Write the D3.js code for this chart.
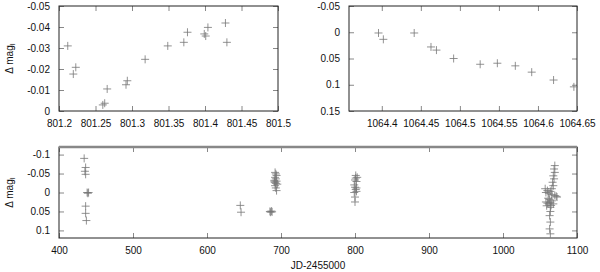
<!DOCTYPE html>
<html>
<head>
<meta charset="utf-8">
<script src="https://cdn.jsdelivr.net/npm/d3@7"></script>
<style>
  body { margin: 0; background: #fff; }
  text { font-family: "Liberation Sans", Arial, sans-serif; fill: #111; }
</style>
</head>
<body>
<div id="chart_area"></div>
<script>
// night of JD 2455801 (zoomed)
var nightAx = [801.212, 801.2196, 801.223, 801.260, 801.2626, 801.266, 801.2918, 801.2936,
    801.318, 801.349, 801.371, 801.376, 801.399, 801.401, 801.404, 801.428, 801.430];
var nightAy = [-0.031, -0.0176, -0.0208, -0.0029, -0.0037, -0.0105, -0.0125, -0.0144,
    -0.0246, -0.031, -0.0327, -0.0375, -0.0367, -0.0357, -0.0398, -0.0419, -0.0327];

// night of JD 2456064 (zoomed)
var nightBx = [1064.3958, 1064.402, 1064.4415, 1064.463, 1064.470, 1064.492,
    1064.526, 1064.548, 1064.571, 1064.592, 1064.620, 1064.646];
var nightBy = [0.0014, 0.0135, 0.0014, 0.028, 0.034, 0.050,
    0.061, 0.059, 0.064, 0.076, 0.091, 0.104];

// whole campaign
var allX = [434, 436, 435, 436, 438, 439, 440, 436, 436, 437,
    645, 646,
    685, 686, 687, 688,
    692, 693, 694, 692, 693, 691, 694, 692, 693, 695, 692, 693, 694, 691,
    801, 803, 801, 800, 802, 799, 800, 801, 802, 799, 800, 800, 802,
    1070, 1069, 1070, 1068, 1069, 1067, 1068, 1066,
    1057, 1058, 1060, 1062, 1064, 1066, 1070, 1072, 1073, 1058, 1060, 1062, 1064, 1066, 1068, 1061, 1063, 1059, 1065,
    1064, 1064, 1063, 1064, 1063, 1064];
var allY = [-0.090, -0.066, -0.056, -0.048, 0.0, 0.002, 0.0, 0.036, 0.055, 0.074,
    0.034, 0.052,
    0.050, 0.052, 0.049, 0.051,
    -0.053, -0.049, -0.045, -0.040, -0.036, -0.032, -0.030, -0.027, -0.024, -0.022, -0.018, -0.012, -0.005, -0.028,
    -0.045, -0.040, -0.038, -0.033, -0.029, -0.020, -0.014, -0.008, -0.012, 0.0, 0.012, 0.025, -0.003,
    -0.071, -0.062, -0.053, -0.044, -0.036, -0.027, -0.018, -0.010,
    -0.010, 0.0, -0.005, 0.002, -0.003, 0.005, 0.008, 0.010, 0.012, 0.025, 0.028, 0.030, 0.026, 0.022, 0.030, 0.015, 0.018, 0.035, 0.034,
    0.039, 0.050, 0.061, 0.078, 0.096, 0.109];

var ticksAx = [801.2, 801.25, 801.3, 801.35, 801.4, 801.45, 801.5];
var ticksAy = [-0.05, -0.04, -0.03, -0.02, -0.01, 0];
var ticksBx = [1064.4, 1064.45, 1064.5, 1064.55, 1064.6, 1064.65];
var ticksBy = [-0.05, 0, 0.05, 0.1, 0.15];
var ticksCx = [400, 500, 600, 700, 800, 900, 1000, 1100];
var ticksCy = [-0.1, -0.05, 0, 0.05, 0.1];

var svg = d3.select("#chart_area")
    .append("svg")
    .attr("width", 600)
    .attr("height", 272);

var fmt = function (d) { return String(+d.toFixed(3)); };

function panel(o) {
    var x = d3.scaleLinear().domain(o.xd).range([o.left, o.right]);
    var y = d3.scaleLinear().domain(o.yd).range([o.top, o.bottom]);

    var g = svg.append("g");

    g.append("g")
        .attr("transform", "translate(0," + o.bottom + ")")
        .call(d3.axisBottom(x).tickValues(o.xt).tickSize(-5).tickPadding(9).tickFormat(fmt));
    g.append("g")
        .attr("transform", "translate(0," + o.top + ")")
        .call(d3.axisTop(x).tickValues(o.xt).tickSize(-5).tickFormat(""));
    g.append("g")
        .attr("transform", "translate(" + o.left + ",0)")
        .call(d3.axisLeft(y).tickValues(o.yt).tickSize(-5).tickPadding(9).tickFormat(fmt));
    g.append("g")
        .attr("transform", "translate(" + o.right + ",0)")
        .call(d3.axisRight(y).tickValues(o.yt).tickSize(-5).tickFormat(""));

    g.selectAll(".domain").remove();
    g.selectAll(".tick line").attr("stroke", "#888");
    g.selectAll(".tick text")
        .attr("font-size", 10)
        .attr("font-family", "Liberation Sans, Arial, sans-serif")
        .attr("fill", "#111");

    g.append("rect")
        .attr("x", o.left).attr("y", o.top)
        .attr("width", o.right - o.left).attr("height", o.bottom - o.top)
        .attr("fill", "none").attr("stroke", "#222").attr("stroke-width", 1);

    if (o.thickTop) {
        g.append("line")
            .attr("x1", o.left).attr("x2", o.right)
            .attr("y1", o.top).attr("y2", o.top)
            .attr("stroke", "#888").attr("stroke-width", 2.5);
    }

    var pts = o.xs.map(function (v, i) { return [v, o.ys[i]]; });
    g.selectAll(".pt")
        .data(pts)
        .enter()
        .append("path")
        .attr("class", "pt")
        .attr("d", function (d) {
            var px = x(d[0]), py = y(d[1]);
            return "M" + (px - 4) + "," + py + "H" + (px + 4) +
                "M" + px + "," + (py - 4) + "V" + (py + 4);
        })
        .attr("stroke", "#777")
        .attr("stroke-opacity", 0.8)
        .attr("stroke-width", 1)
        .attr("fill", "none");

    if (o.ylabel) {
        var t = g.append("text")
            .attr("transform", "translate(13," + ((o.top + o.bottom) / 2) + ") rotate(-90)")
            .attr("text-anchor", "middle")
            .attr("font-size", 10);
        t.append("tspan").text("\u0394 mag");
        t.append("tspan").attr("font-size", 7).attr("dy", 2).text("I");
    }
    return g;
}

panel({ xd: [801.2, 801.5], yd: [-0.05, 0], left: 59, right: 278, top: 6, bottom: 111,
    xt: ticksAx, yt: ticksAy, xs: nightAx, ys: nightAy, ylabel: true });

panel({ xd: [1064.358, 1064.65], yd: [-0.05, 0.15], left: 349, right: 577, top: 6, bottom: 111,
    xt: ticksBx, yt: ticksBy, xs: nightBx, ys: nightBy, ylabel: false });

panel({ xd: [400, 1100], yd: [-0.12, 0.12], left: 59, right: 577, top: 147, bottom: 238,
    xt: ticksCx, yt: ticksCy, xs: allX, ys: allY, ylabel: true, thickTop: true });

svg.append("text")
    .attr("x", 318)
    .attr("y", 269)
    .attr("text-anchor", "middle")
    .attr("font-size", 10)
    .text("JD-2455000");
</script>
</body>
</html>
